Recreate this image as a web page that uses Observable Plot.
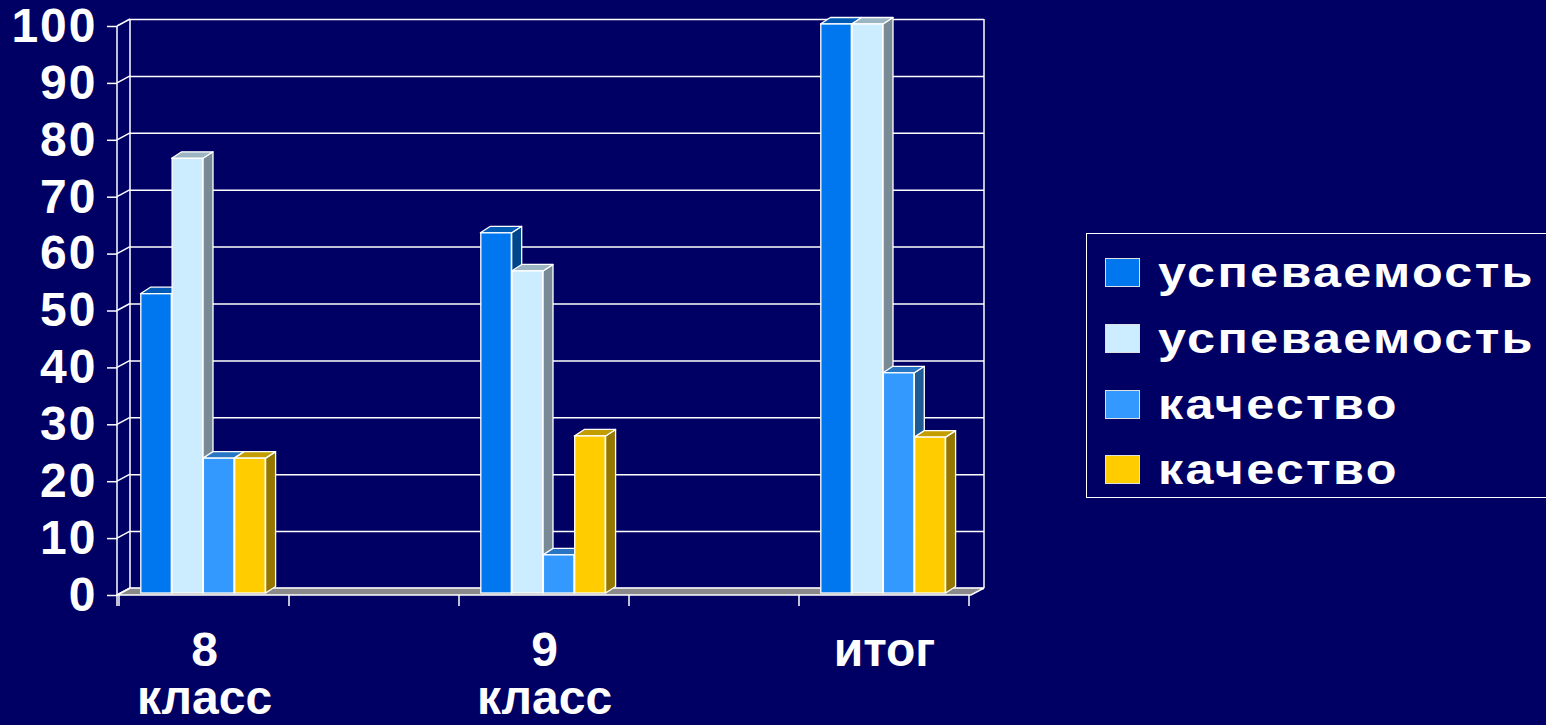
<!DOCTYPE html>
<html><head><meta charset="utf-8">
<script src="https://cdn.jsdelivr.net/npm/d3@7"></script>
<script src="https://cdn.jsdelivr.net/npm/@observablehq/plot@0.6"></script>
<style>
html,body{margin:0;padding:0;background:#000064;overflow:hidden;width:1546px;height:725px;}
#wrap{position:relative;width:1546px;height:725px;}
#wrap svg{position:absolute;left:0;top:0;}
g[aria-label="y-axis tick label"] text{letter-spacing:2px;}
#legend{position:absolute;left:1086px;top:233px;width:490px;height:265px;border:1.5px solid #fff;box-sizing:border-box;}
.item{position:absolute;left:18px;height:40px;display:flex;align-items:center;}
.sw{width:35px;height:29px;border:1px solid #e0e0e0;box-sizing:border-box;flex:none;}
.lab{margin-left:18px;font:bold 43px "Liberation Sans",Arial,sans-serif;color:#fff;letter-spacing:2px;transform:scaleX(1.17);transform-origin:left center;white-space:nowrap;}
</style></head><body><div id="wrap"></div>
<script>
// ---- data ----
const categories = ["8 класс", "9 класс", "итог"];
const categoryLabels = ["8\nкласс", "9\nкласс", "итог"];
const categorySlots = ["8 класс", "пусто 1", "9 класс", "пусто 2", "итог"]; // two empty categories in the source chart
const seriesNames = ["успеваемость", "успеваемость", "качество", "качество"];
const uspevaemost1 = [52.6, 63.3, 100];
const uspevaemost2 = [76.4, 56.6, 100];
const kachestvo1 = [23.7, 6.7, 38.7];
const kachestvo2 = [23.7, 27.6, 27.4];
const yTicks = [0, 10, 20, 30, 40, 50, 60, 70, 80, 90, 100];

// ---- config ----
const seriesColors = ["#0077EE", "#CCECFF", "#3399FF", "#FFCC00"];
const W = 1546, H = 725, mL = 117, mR = 575, mT = 26, mB = 130;
const bw = (W - mL - mR) / categorySlots.length;
const barW = bw * 0.733 / 4;
const barShiftX = -1, barShiftY = -2;  // bars sit slightly behind the front plane
const depthX = 10, depthY = -6.5;      // bar depth
const wallX = 13, wallY = -7;          // back wall offset

const seriesValues = [uspevaemost1, uspevaemost2, kachestvo1, kachestvo2];
const seriesKeys = seriesNames.map((n, i) => `${i + 1}. ${n}`);
const rows = categories.flatMap((c, ci) =>
  seriesValues.map((vals, si) => ({category: c, series: seriesKeys[si], si, value: vals[ci]})));
const labelLines = categories.map((c, i) => {
  const [l1, l2 = ""] = categoryLabels[i].split("\n");
  return {category: c, l1, l2};
});

function frame3D(index, scales, values, dims) {
  const {x, y} = scales;
  const g = d3.create("svg:g").attr("stroke", "white").attr("stroke-width", 1.5).attr("fill", "none");
  const left = dims.marginLeft, right = dims.width - dims.marginRight;
  const y0 = y(0), yTop = y(100);
  g.append("path")
    .attr("d", `M${left},${y0}L${right},${y0}L${right + wallX},${y0 + wallY}L${left + wallX},${y0 + wallY}Z`)
    .attr("fill", "#8a8a8a");
  g.append("line").attr("x1", left + wallX).attr("x2", left + wallX).attr("y1", yTop + wallY).attr("y2", y0 + wallY);
  g.append("line").attr("x1", right + wallX).attr("x2", right + wallX).attr("y1", yTop + wallY).attr("y2", y0 + wallY);
  g.append("line").attr("x1", left).attr("x2", left).attr("y1", yTop).attr("y2", y0 + 11);
  for (const t of yTicks) {
    g.append("line").attr("x1", left).attr("y1", y(t)).attr("x2", left + wallX).attr("y2", y(t) + wallY);
  }
  const b = x.bandwidth ? x.bandwidth() : bw;
  const edges = categorySlots.map(s => x(s)).concat([x(categorySlots[categorySlots.length - 1]) + b]);
  for (const e of edges) g.append("line").attr("x1", e).attr("x2", e).attr("y1", y0).attr("y2", y0 + 11);
  return g.node();
}

function bars3D(index, scales) {
  const {x, y, color} = scales;
  const b = x.bandwidth ? x.bandwidth() : bw;
  const g = d3.create("svg:g").attr("stroke", "white").attr("stroke-width", 1.3).attr("stroke-linejoin", "round");
  for (const r of rows) {
    const x0 = x(r.category) + b / 2 + (r.si - 2) * barW + barShiftX;
    const x1 = x0 + barW;
    const yb = y(0) + barShiftY, yt = y(r.value) + barShiftY;
    const base = d3.color(color(r.series));
    g.append("path")
      .attr("d", `M${x1},${yb}L${x1 + depthX},${yb + depthY}L${x1 + depthX},${yt + depthY}L${x1},${yt}Z`)
      .attr("fill", base.darker(1.5).formatHex());
    g.append("path")
      .attr("d", `M${x0},${yt}L${x1},${yt}L${x1 + depthX},${yt + depthY}L${x0 + depthX},${yt + depthY}Z`)
      .attr("fill", base.darker(0.75).formatHex());
  }
  return g.node();
}

const inset = (bw - barW) / 2;
const labelStyle = {frameAnchor: "bottom", lineAnchor: "middle", fontSize: 48, fontWeight: "bold", fill: "white"};
const plot = Plot.plot({
  width: W, height: H,
  marginLeft: mL, marginRight: mR, marginTop: mT, marginBottom: mB,
  style: {background: "transparent", color: "white", fontFamily: "'Liberation Sans', Arial, sans-serif", overflow: "visible"},
  x: {domain: categorySlots, padding: 0, axis: null},
  y: {domain: [0, 100], axis: null},
  color: {domain: seriesKeys, range: seriesColors},
  marks: [
    Plot.ruleY(yTicks, {y: d => d, dx: wallX, dy: wallY, stroke: "white", strokeWidth: 1.5}),
    frame3D,
    bars3D,
    ...seriesKeys.map((k, si) => Plot.barY(rows.filter(r => r.si === si), {
      x: "category", y: "value", fill: "series", stroke: "white", strokeWidth: 1.3,
      insetLeft: inset, insetRight: inset, dx: (si - 1.5) * barW + barShiftX, dy: barShiftY
    })),
    Plot.axisY({ticks: yTicks, tickSize: 10, tickPadding: 10, fontSize: 48, fontWeight: "bold",
      stroke: "white", strokeWidth: 1.5, fill: "white", label: null, tickFormat: d => String(d)}),
    Plot.text(labelLines, {x: "category", text: "l1", dy: 55, ...labelStyle}),
    Plot.text(labelLines, {x: "category", text: "l2", dy: 103, ...labelStyle})
  ]
});
const wrap = document.getElementById("wrap");
wrap.appendChild(plot);

// legend
const legend = document.createElement("div");
legend.id = "legend";
const itemTops = [38, 104, 170, 235];
seriesNames.forEach((n, i) => {
  const it = document.createElement("div");
  it.className = "item";
  it.style.top = (itemTops[i] - 20) + "px";
  const sw = document.createElement("div");
  sw.className = "sw";
  sw.style.background = seriesColors[i];
  const lab = document.createElement("div");
  lab.className = "lab";
  lab.textContent = n;
  it.appendChild(sw); it.appendChild(lab);
  legend.appendChild(it);
});
wrap.appendChild(legend);
</script></body></html>
